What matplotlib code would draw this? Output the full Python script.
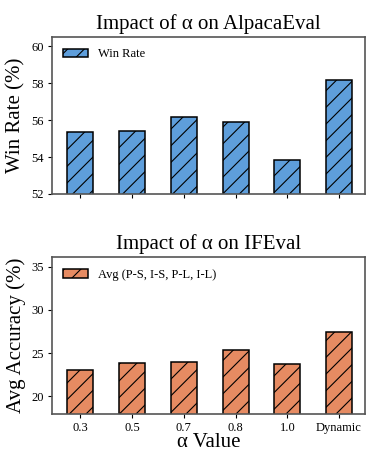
import matplotlib
matplotlib.use("Agg")
import matplotlib.pyplot as plt
import numpy as np

plt.rcParams['font.family'] = ['Liberation Serif', 'DejaVu Serif']
plt.rcParams['hatch.linewidth'] = 0.8

categories = ["0.3", "0.5", "0.7", "0.8", "1.0", "Dynamic"]
win_rate = [55.37, 55.42, 56.16, 55.89, 53.84, 58.17]
avg_acc = [23.05, 23.85, 24.0, 25.4, 23.8, 27.5]

blue = "#5E9EDB"
orange = "#E68B62"
spine_c = "#555555"

fig = plt.figure(figsize=(3.66, 4.53), dpi=100)
ax1 = fig.add_axes([0.142, 0.572, 0.855, 0.346])
ax2 = fig.add_axes([0.142, 0.087, 0.855, 0.345])

x = np.arange(len(categories))

def style(ax):
    for s in ax.spines.values():
        s.set_color(spine_c)
        s.set_linewidth(1.2)
    ax.tick_params(axis='both', labelsize=9, color='black', length=3, width=0.8, pad=3)
    ax.set_xlim(-0.55, 5.5)

ax1.bar(x, win_rate, width=0.5, color=blue, edgecolor='black', linewidth=1.1,
        hatch='//', label='Win Rate')
ax1.set_ylim(52, 60.5)
ax1.set_yticks([52, 54, 56, 58, 60])
ax1.set_xticks(x)
ax1.set_xticklabels([])
ax1.set_ylabel("Win Rate (%)", fontsize=15)
ax1.set_title("Impact of α on AlpacaEval", fontsize=15)
style(ax1)
ax1.legend(loc='upper left', fontsize=9, frameon=False)

ax2.bar(x, avg_acc, width=0.5, color=orange, edgecolor='black', linewidth=1.1,
        hatch='//', label='Avg (P-S, I-S, P-L, I-L)')
ax2.set_ylim(18, 36.1)
ax2.set_yticks([20, 25, 30, 35])
ax2.set_xticks(x)
ax2.set_xticklabels(categories)
ax2.set_ylabel("Avg Accuracy (%)", fontsize=15)
ax2.set_xlabel("α Value", fontsize=15, labelpad=-1)
ax2.set_title("Impact of α on IFEval", fontsize=15)
style(ax2)
ax2.legend(loc='upper left', fontsize=9, frameon=False)

fig.savefig("out.png", dpi=100)
